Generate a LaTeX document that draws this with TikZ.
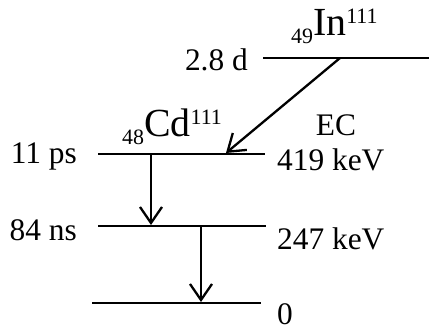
\documentclass[tikz,border=0pt]{standalone}
\usepackage{fontspec}
\setmainfont{Liberation Serif}
\usetikzlibrary{arrows.meta}
\newcommand\nuc[3]{\raisebox{-8bp}{\fontsize{22}{22}\selectfont #1}{\fontsize{40}{40}\selectfont #2}\raisebox{12bp}{\fontsize{22}{22}\selectfont #3}}
\begin{document}
\begin{tikzpicture}[x=1bp,y=-1bp,
  lvl/.style={line width=2.6bp},
  trans/.style={line width=2.3bp,-{Straight Barb[length=16bp,width=22bp,line width=2.3bp]}},
  lbl/.style={inner sep=0pt,font=\fontsize{31.5}{31.5}\selectfont}]
\useasboundingbox (0,0) rectangle (429,330);
% levels
\coordinate (inL) at (263,58);  \coordinate (inR) at (429,58);
\coordinate (cdL) at (98,154);  \coordinate (cdR) at (265,154);
\coordinate (mL) at (98,226);   \coordinate (mR) at (266,226);
\coordinate (gL) at (92,303);   \coordinate (gR) at (261,303);
\draw[lvl] (inL) -- (inR);
\draw[lvl] (cdL) -- (cdR);
\draw[lvl] (mL) -- (mR);
\draw[lvl] (gL) -- (gR);
% labels
\node[lbl,anchor=base east] (t1) at (248,70) {2.8 d};
\node[lbl,anchor=base east] (t2) at (77,163) {11 ps};
\node[lbl,anchor=base east] (t3) at (77,240) {84 ns};
\node[lbl,anchor=base west] (e1) at (277,170) {419 keV};
\node[lbl,anchor=base west] (e2) at (277,249) {247 keV};
\node[lbl,anchor=base west] (e3) at (277,324) {0};
\node[lbl,anchor=base] (ec) at (336,135) {EC};
\node[inner sep=0pt,anchor=base west] (in) at (291,35) {\nuc{49}{In}{111}};
\node[inner sep=0pt,anchor=base west] (cd) at (122,136) {\nuc{48}{Cd}{111}};
% transitions
\coordinate (a1) at (340,58);  \coordinate (b1) at (226,153);
\coordinate (a2) at (151,154); \coordinate (b2) at (151,225);
\coordinate (a3) at (201,226); \coordinate (b3) at (201,302);
\draw[trans] (a1) -- (b1);
\draw[trans] (a2) -- (b2);
\draw[trans] (a3) -- (b3);
\end{tikzpicture}
\end{document}
